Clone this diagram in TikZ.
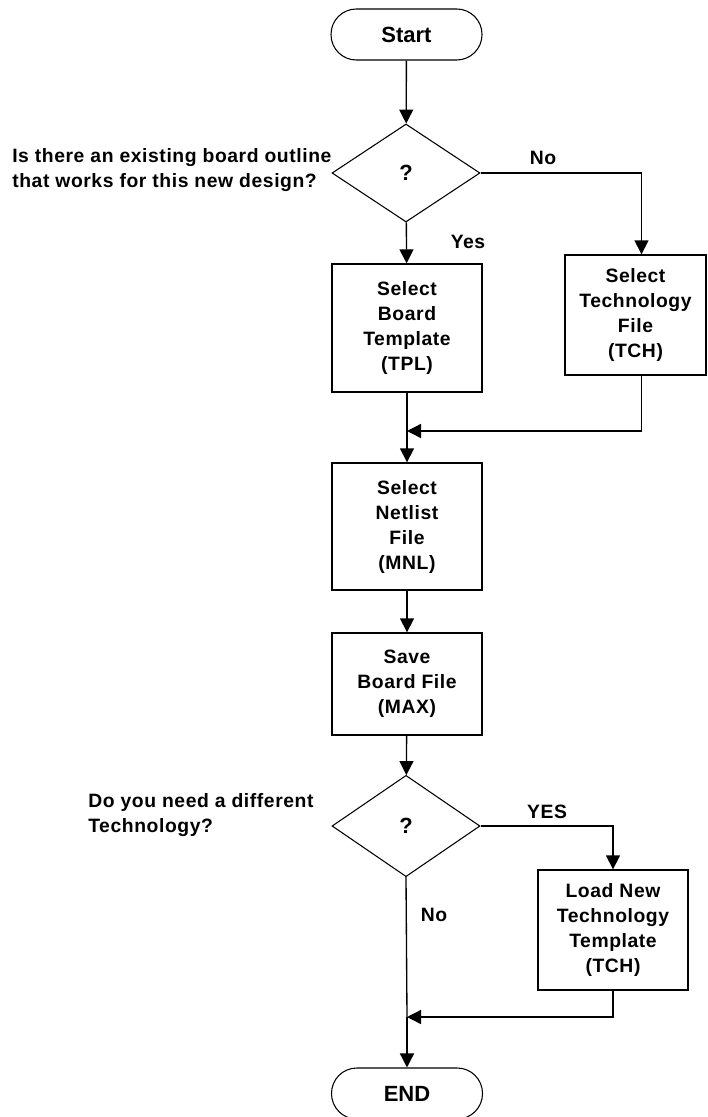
\documentclass[tikz,border=0pt]{standalone}
\usepackage{fontspec}
\setmainfont{Liberation Sans}[LetterSpace=3.0]
\newfontfamily\termfont{Liberation Sans}
\usetikzlibrary{shapes.geometric,arrows.meta}
\begin{document}
\begin{tikzpicture}[x=0.75pt,y=-0.75pt,
  every node/.style={font=\bfseries\fontsize{14.5}{18.75}\selectfont},
  term/.style={draw,line width=0.8pt,rounded corners=19pt,minimum width=113.25pt,minimum height=38.25pt,inner sep=0pt,font=\termfont\bfseries\fontsize{16.5}{20}\selectfont},
  dec/.style={draw,line width=0.8pt,diamond,minimum width=111pt,minimum height=73.5pt,inner sep=0pt,font=\termfont\bfseries\fontsize{16.5}{20}\selectfont},
  proc/.style={draw,line width=1pt,align=center,inner sep=0pt},
  lbl/.style={inner sep=0pt},
  arr/.style={line width=1pt,-{Triangle[width=10.5pt,length=10.5pt]}},
  ln/.style={line width=1pt}]
\useasboundingbox (0,0) rectangle (707,1117);
\node[term] (start) at (406.5,34.5) {Start};
\node[dec] (d1) at (406,173) {?};
\node[proc,minimum width=112.5pt,minimum height=96pt] (tpl) at (407,328) {Select\\Board\\Template\\(TPL)};
\node[proc,minimum width=105.75pt,minimum height=90pt] (tch) at (635.5,315) {Select\\Technology\\File\\(TCH)};
\coordinate (j1) at (407,431);
\node[proc,minimum width=112.5pt,minimum height=95.25pt] (net) at (407,526.5) {Select\\Netlist\\File\\(MNL)};
\node[proc,minimum width=112.5pt,minimum height=76.5pt] (save) at (407,684) {Save\\Board File\\(MAX)};
\node[dec,minimum height=76pt] (d2) at (406,826) {?};
\node[proc,minimum width=112.5pt,minimum height=90pt] (load) at (613,930) {Load New\\Technology\\Template\\(TCH)};
\coordinate (j2) at (407,1017);
\node[term] (end) at (407,1093.5) {END};

\node[lbl,anchor=west,align=left] (q1) at (12,170.5) {Is there an existing board outline\\that works for this new design?};
\node[lbl,anchor=west,align=left] (q2) at (88,815) {Do you need a different\\Technology?};
\node[lbl] (no1) at (543,158) {No};
\node[lbl] (yes1) at (468,242) {Yes};
\node[lbl] (yes2) at (547,812) {YES};
\node[lbl] (no2) at (434,915) {No};

\draw[arr] (start) -- (d1);
\draw[arr] (d1) -- (tpl);
\draw[arr] (d1.east) -| ([xshift=4.5pt]tch.north);
\draw[ln] (tpl.south) -- (j1);
\draw[arr] ([xshift=4.5pt]tch.south) |- (j1);
\draw[arr] (j1) -- (net.north);
\draw[arr] (net) -- (save);
\draw[arr] (save) -- (d2);
\draw[arr] (d2.east) -| (load.north);
\draw[ln] (d2.south) -- (j2);
\draw[arr] (load.south) |- (j2);
\draw[arr] (j2) -- (end.north);
\end{tikzpicture}
\end{document}
